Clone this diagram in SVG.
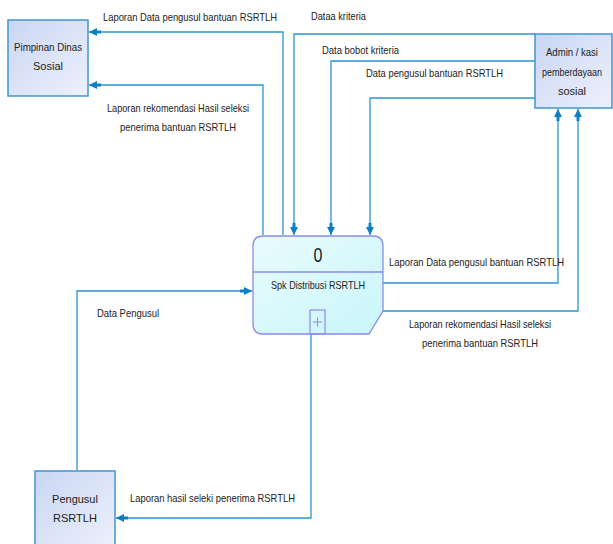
<svg xmlns="http://www.w3.org/2000/svg" width="613" height="544" viewBox="0 0 613 544">
  <defs>
    <linearGradient id="extFill" x1="0" y1="0" x2="1" y2="1">
      <stop offset="0" stop-color="#c9d6f3"/>
      <stop offset="1" stop-color="#eef1fc"/>
    </linearGradient>
    <linearGradient id="procFill" x1="0" y1="0" x2="1" y2="1">
      <stop offset="0" stop-color="#e9fbfd"/>
      <stop offset="1" stop-color="#c8f6fb"/>
    </linearGradient>
    <marker id="arrow" viewBox="0 0 12 8" refX="12" refY="4" markerWidth="12" markerHeight="8" markerUnits="userSpaceOnUse" orient="auto">
      <path d="M0,2.5 L4,2.5 L4,0 L12,4 L4,8 L4,5.5 L0,5.5 Z" fill="#0a7fc2"/>
    </marker>
  </defs>
  <style>
    .ext { fill: url(#extFill); stroke: #3f97d0; stroke-width: 1.5; }
    .proc { fill: url(#procFill); stroke: #8a8af0; stroke-width: 1.3; }
    .flow { fill: none; stroke: #2a95d2; stroke-width: 1.3; }
    .flow-end { marker-end: url(#arrow); }
    text { font-family: "Liberation Sans", Arial, sans-serif; font-size: 11px; fill: #222; }
    .c { text-anchor: middle; }
  </style>

  <rect width="613" height="544" fill="#ffffff"/>

  <!-- data flows -->
  <g id="connectors">
    <!-- process to Pimpinan -->
    <path class="flow flow-end" d="M283,235 V32 H89"/>
    <path class="flow flow-end" d="M263,235 V85 H89"/>
    <!-- Admin to process -->
    <path class="flow flow-end" d="M535,34 H294 V235"/>
    <path class="flow flow-end" d="M535,61 H331 V235"/>
    <path class="flow flow-end" d="M535,98 H370 V235"/>
    <!-- process to Admin -->
    <path class="flow flow-end" d="M383,283 H558 V109"/>
    <path class="flow flow-end" d="M382,311 H578 V109"/>
    <!-- Pengusul to process -->
    <path class="flow flow-end" d="M77,471 V291 H252"/>
    <!-- process to Pengusul -->
    <path class="flow flow-end" d="M311,334 V518 H116"/>
  </g>

  <!-- flow labels -->
  <g id="labels">
    <text x="103" y="21" textLength="174" lengthAdjust="spacingAndGlyphs">Laporan Data pengusul bantuan RSRTLH</text>
    <text x="178" y="112" class="c" textLength="142" lengthAdjust="spacingAndGlyphs">Laporan rekomendasi Hasil seleksi</text>
    <text x="178" y="131" class="c" textLength="116" lengthAdjust="spacingAndGlyphs">penerima bantuan RSRTLH</text>
    <text x="311" y="20" textLength="55" lengthAdjust="spacingAndGlyphs">Dataa kriteria</text>
    <text x="322" y="54" textLength="77" lengthAdjust="spacingAndGlyphs">Data bobot kriteria</text>
    <text x="366" y="77" textLength="137" lengthAdjust="spacingAndGlyphs">Data pengusul bantuan RSRTLH</text>
    <text x="389" y="266" textLength="175" lengthAdjust="spacingAndGlyphs">Laporan Data pengusul bantuan RSRTLH</text>
    <text x="480" y="328" class="c" textLength="142" lengthAdjust="spacingAndGlyphs">Laporan rekomendasi Hasil seleksi</text>
    <text x="480" y="347" class="c" textLength="116" lengthAdjust="spacingAndGlyphs">penerima bantuan RSRTLH</text>
    <text x="97" y="317" textLength="62" lengthAdjust="spacingAndGlyphs">Data Pengusul</text>
    <text x="130" y="502" textLength="165" lengthAdjust="spacingAndGlyphs">Laporan hasil seleki penerima RSRTLH</text>
  </g>

  <!-- external entity: Pimpinan Dinas Sosial -->
  <g id="pimpinan">
    <rect class="ext" x="8" y="20" width="80" height="76"/>
    <text x="48" y="51" class="c" textLength="68" lengthAdjust="spacingAndGlyphs">Pimpinan Dinas</text>
    <text x="48" y="70" class="c">Sosial</text>
  </g>

  <!-- external entity: Admin / kasi pemberdayaan sosial -->
  <g id="admin">
    <rect class="ext" x="535" y="34" width="77" height="74"/>
    <text x="572" y="56" class="c" textLength="52" lengthAdjust="spacingAndGlyphs">Admin / kasi</text>
    <text x="572" y="76" class="c" textLength="60" lengthAdjust="spacingAndGlyphs">pemberdayaan</text>
    <text x="572" y="95" class="c">sosial</text>
  </g>

  <!-- external entity: Pengusul RSRTLH -->
  <g id="pengusul">
    <rect class="ext" x="35" y="471" width="80" height="80"/>
    <text x="75" y="503" class="c">Pengusul</text>
    <text x="75" y="522" class="c">RSRTLH</text>
  </g>

  <!-- process 0 -->
  <g id="process-0">
    <path class="proc" d="M263,236 H373 Q383,236 383,246 V311 L369,334 H263 Q253,334 253,324 V246 Q253,236 263,236 Z"/>
    <line x1="253" y1="272" x2="383" y2="272" stroke="#8a8af0" stroke-width="1.3"/>
    <text x="318" y="262" class="c" style="font-size:20px" transform="translate(318 262) scale(0.8 1) translate(-318 -262)">0</text>
    <text x="318" y="289" class="c" textLength="94" lengthAdjust="spacingAndGlyphs">Spk Distribusi RSRTLH</text>
    <rect x="310" y="310" width="15" height="24" fill="none" stroke="#8a8af0" stroke-width="1.2"/>
    <path d="M313,322 H322 M317.5,317.5 V326.5" stroke="#8a8af0" stroke-width="1"/>
  </g>
</svg>
